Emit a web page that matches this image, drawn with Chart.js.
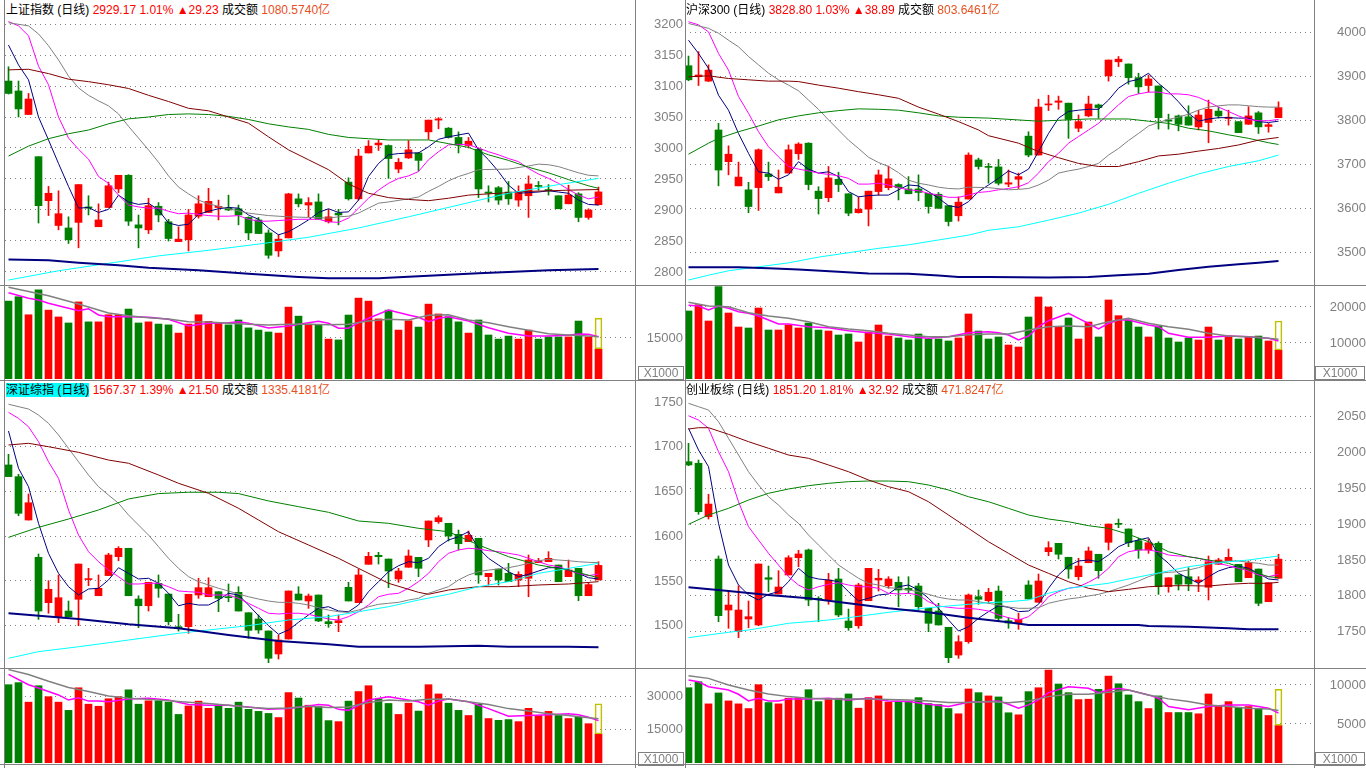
<!DOCTYPE html>
<html>
<head>
<meta charset="utf-8">
<script src="https://cdn.jsdelivr.net/npm/chart.js@4.4.1/dist/chart.umd.min.js"></script>
<style>
  body { margin: 0; background: #fff; width: 1366px; height: 768px; overflow: hidden; position: relative;
         font-family: "Liberation Sans", "DejaVu Sans", "Noto Sans CJK SC", sans-serif; }
  .box { position: absolute; }
  .hd { position: absolute; font-size: 12px; line-height: 16px; white-space: pre; color: #000; }
  .hd .r { color: #ff0000; }
  .hd .o { color: #e8501e; }
  .hd .sel { background: #00ffff; }
  .vl { position: absolute; width: 1px; background: #808080; }
  .hl { position: absolute; height: 1px; background: #808080; }
  .x1000 { position: absolute; border: 1px solid #808080; color: #808080; font-size: 12px; line-height: 12px;
           text-align: center; box-sizing: border-box; height: 14px; }
</style>
</head>
<body>

<div class="box" style="left:5px;top:21px;width:630px;height:264px"><canvas id="shK"></canvas></div>
<div class="box" style="left:5px;top:286px;width:630px;height:93px"><canvas id="shV"></canvas></div>
<div class="box" style="left:640px;top:11px;width:726px;height:284px"><canvas id="hsK"></canvas></div>
<div class="box" style="left:640px;top:286px;width:726px;height:93px"><canvas id="hsV"></canvas></div>
<div class="box" style="left:5px;top:399px;width:630px;height:269px"><canvas id="szK"></canvas></div>
<div class="box" style="left:5px;top:669px;width:630px;height:94px"><canvas id="szV"></canvas></div>
<div class="box" style="left:640px;top:389px;width:726px;height:289px"><canvas id="cyK"></canvas></div>
<div class="box" style="left:640px;top:669px;width:726px;height:94px"><canvas id="cyV"></canvas></div>

<div class="hd" style="left:6px;top:2px">上证指数 (日线) <span class="r">2929.17 1.01% ▲29.23</span> 成交额 <span class="o">1080.5740亿</span></div>
<div class="hd" style="left:686px;top:2px">沪深300 (日线) <span class="r">3828.80 1.03% ▲38.89</span> 成交额 <span class="o">803.6461亿</span></div>
<div class="hd" style="left:6px;top:382px"><span class="sel">深证综指 (日线)</span> <span class="r">1567.37 1.39% ▲21.50</span> 成交额 <span class="o">1335.4181亿</span></div>
<div class="hd" style="left:686px;top:382px">创业板综 (日线) <span class="r">1851.20 1.81% ▲32.92</span> 成交额 <span class="o">471.8247亿</span></div>

<div class="vl" style="left:4px;top:0;height:768px"></div>
<div class="vl" style="left:635px;top:0;height:768px"></div>
<div class="vl" style="left:685px;top:0;height:768px"></div>
<div class="vl" style="left:1314px;top:0;height:768px"></div>
<div class="hl" style="left:0;top:285px;width:1366px"></div>
<div class="hl" style="left:0;top:380px;width:1366px"></div>
<div class="hl" style="left:0;top:668px;width:1366px"></div>
<div class="hl" style="left:0;top:764px;width:1366px"></div>

<div class="x1000" style="left:638px;top:366px;width:46px">X1000</div>
<div class="x1000" style="left:1315px;top:366px;width:50px">X1000</div>
<div class="x1000" style="left:638px;top:752px;width:46px">X1000</div>
<div class="x1000" style="left:1315px;top:752px;width:50px">X1000</div>

<script>
// ---------- 上证指数 ----------
const shO = [3108,3092,3054,2986,2915,2875,2871,2880,2905,2873,2904,2934,2956,2876,2868,2906,2881,2849,2852,2890,2896,2904,2904,2902,2888,2884,2863,2834,2855,2918,2908,2913,2881,2895,2945,2918,2992,3005,3004,2966,2984,2992,3026,3045,3032,3017,3004,2998,2929,2936,2929,2916,2923,2939,2933,2923,2910,2926,2888,2908.5];
const shH = [3131,3108,3088,2986,2938,2931,2889,2941,2923,2910,2945,2956,2957,2892,2919,2912,2885,2873,2901,2923,2935,2916,2924,2908,2889,2888,2868,2860,2927,2926,2920,2926,2901,2901,2952,2998,3012,3013,3005,2983,3012,2993,3045,3049,3033,3026,3017,3000,2939,2938,2946,2939,2955,2946,2941,2923,2940,2928,2902,2937];
const shL = [3087,3050,3054,2879,2891,2868,2846,2839,2892,2873,2904,2928,2875,2839,2862,2881,2850,2849,2834,2887,2896,2884,2899,2876,2852,2862,2822,2825,2855,2905,2889,2885,2879,2876,2916,2916,2992,2996,2951,2960,2983,2963,3014,3031,3016,2992,3000,2920,2913,2909,2909,2906,2888,2932,2924,2902,2910,2881,2885,2908];
const shC = [3088,3063,3079,2907,2927,2894,2852,2941,2903,2884,2939,2956,2882,2871,2907,2892,2854,2853,2892,2910,2914,2906,2900,2892,2863,2862,2827,2853,2926,2910,2912,2885,2889,2892,2918,2987,3003,3008,2983,2977,2997,2980,3045,3047,3017,3005,3011,2934,2927,2916,2918,2930,2942,2938,2931,2902,2924,2888,2899.94,2929.17];
const shVol = [28500,30100,23500,32600,25200,22700,20500,28200,20900,20900,23500,23500,25600,20500,20900,20100,19800,16800,20100,23500,21100,20500,19800,21600,18700,17900,17200,16800,26300,23000,20100,19800,14600,14300,23400,29600,28500,22000,25200,17900,21300,19000,27400,23800,22800,20900,16800,21600,16100,14600,15700,14600,17900,14600,15400,15400,15400,21200,15400,11000];
const shVolEst = 22300;
const shMA5 = [3166,3134,3110,3050,3013,2975,2938,2903,2904,2896,2901,2924,2913,2909,2911,2900,2879,2875,2877,2893,2898,2902,2904,2903,2892,2885,2871,2860,2865,2874,2884,2896,2902,2896,2897,2916,2954,2975,2989,2991,2992,2992,3002,3014,3018,3021,3024,2997,2981,2962,2940,2927,2928,2929,2931,2929,2927,2916,2909,2908];
const shMA10 = [3204,3197,3181,3132,3102,3050,3016,2998,2982,2954,2943,2924,2908,2905,2903,2903,2898,2894,2895,2893,2891,2890,2890,2891,2885,2882,2882,2883,2884,2885,2885,2885,2881,2880,2887,2903,2919,2932,2943,2951,2955,2962,2981,2994,3005,3006,3005,3000,2994,2989,2983,2978,2967,2958,2951,2943,2933,2924,2918,2921];
const shMA20 = [[0,3202],[2,3197],[3,3184],[4,3165],[5,3142],[6,3116],[7,3097],[8,3085],[9,3076],[10,3068],[11,3055],[12,3035],[13,3016],[14,2997],[15,2977],[16,2955],[17,2937],[18,2926],[19,2916],[20,2910],[22,2902],[24,2895],[26,2891],[28,2889],[30,2888],[32,2887],[33,2889],[34,2890],[35,2895],[36,2903],[37,2911],[38,2913],[40,2918],[41,2921],[42,2930],[43,2938],[44,2947],[45,2954],[46,2959],[47,2965],[50,2966],[52,2971],[53,2974],[54,2973],[55,2970],[56,2965],[57,2960],[58,2956],[59,2955]];
const shMA60 = [[0,2987],[2,3003],[4,3015],[6,3023],[8,3029],[10,3039],[12,3047],[14,3050],[16,3054],[18,3055],[20,3054],[22,3051],[24,3046],[26,3039],[28,3034],[30,3030],[32,3022],[34,3017],[36,3015],[38,3013],[40,3013],[42,3013],[44,3007],[46,3001],[48,2989],[50,2980],[52,2969],[54,2960],[56,2949],[58,2939],[59,2935]];
const shMA120 = [[0,3126],[2,3127],[4,3120],[6,3111],[8,3107],[10,3102],[12,3096],[14,3085],[16,3075],[18,3064],[20,3060],[22,3050],[24,3040],[26,3018],[28,2997],[30,2981],[32,2965],[34,2942],[36,2927],[38,2920],[40,2917],[42,2915],[44,2919],[46,2924],[49,2927],[52,2930],[56,2932],[59,2933]];
const shMA250 = [[0,2787],[5,2802],[10,2814],[15,2826],[20,2835],[25,2845],[30,2856],[35,2871],[40,2889],[45,2908],[50,2927],[55,2941],[59,2951]];
const shMA500 = [[0,2820],[4,2819],[7,2815],[11,2811],[14,2807],[19,2803],[24,2797],[29,2792],[32,2790],[37,2790],[42,2794],[47,2798],[50,2800],[54,2803],[59,2805]];
const shVMA5 = [[0,31590],[2,29540],[3,28910],[4,27710],[6,25880],[7,25000],[8,25730],[9,23420],[10,22800],[12,22800],[14,22580],[16,21850],[18,19400],[20,20390],[22,20610],[23,20970],[24,20390],[26,18670],[28,19400],[30,20610],[31,21120],[32,20390],[33,18560],[34,18560],[35,20610],[36,22220],[38,25250],[40,23420],[41,22580],[42,20970],[43,22220],[44,22800],[46,21230],[48,18780],[50,16730],[52,15740],[54,15740],[56,15990],[57,16470],[58,16360],[59,15480]];
const shVMA10 = [[0,33560],[4,30490],[7,27450],[10,24160],[12,23170],[14,22440],[16,21960],[18,20970],[20,20860],[22,20390],[24,20020],[26,19760],[28,20020],[30,20020],[32,19870],[34,20020],[36,21230],[38,21850],[40,21590],[42,23310],[44,23530],[46,21590],[48,20610],[50,19140],[52,17820],[54,16580],[56,16100],[58,15740],[59,15480]];

// ---------- 沪深300 ----------
const hsO = [3924,3899,3889,3778,3706,3651,3642,3647,3678,3635,3680,3724,3748,3639,3624,3666,3633,3590,3598,3638,3647,3654,3644,3644,3634,3632,3606,3583,3621,3710,3694,3694,3655,3666,3764,3721,3835,3841,3839,3782,3810,3835,3901,3933,3928,3897,3879,3878,3801,3810,3808,3785,3795,3821,3804,3797,3791,3817,3786,3806];
const hsH = [3946,3956,3926,3793,3742,3705,3659,3735,3705,3687,3744,3749,3749,3649,3695,3682,3633,3626,3639,3687,3696,3656,3672,3676,3634,3636,3606,3626,3726,3714,3702,3711,3687,3680,3774,3848,3857,3855,3839,3812,3855,3837,3937,3945,3928,3907,3903,3878,3814,3812,3833,3823,3846,3830,3823,3797,3831,3820,3793,3842];
const hsL = [3890,3879,3888,3651,3676,3651,3590,3595,3663,3635,3680,3711,3642,3587,3615,3638,3583,3589,3560,3630,3642,3619,3633,3617,3589,3600,3560,3571,3621,3689,3657,3653,3649,3645,3717,3721,3822,3825,3759,3774,3808,3805,3889,3922,3882,3861,3864,3780,3780,3776,3789,3778,3749,3805,3789,3772,3791,3770,3773,3806];
const hsC = [3892,3903,3914,3687,3723,3671,3604,3733,3672,3648,3733,3746,3654,3622,3669,3654,3589,3598,3639,3676,3667,3647,3633,3636,3604,3600,3570,3614,3721,3695,3693,3657,3658,3672,3721,3830,3837,3844,3802,3797,3837,3829,3937,3939,3897,3876,3894,3806,3798,3791,3789,3812,3825,3810,3807,3772,3810,3785,3789.91,3828.80];
const hsVol = [18900,20640,16110,25640,18330,14440,14170,19720,13610,13610,15000,14170,15560,13610,13330,12220,12500,10280,13060,15000,11940,11390,10830,12500,11110,11110,10560,11390,18060,13330,11110,11670,9440,8890,17220,22780,20000,14440,16940,11110,15830,11670,21950,17590,16390,14440,11670,14720,11390,10280,11390,10830,14440,10830,11940,11110,11670,11940,10560,8060];
const hsVolEst = 16100;
const hsMA5 = [3982,3952,3918,3857,3823,3770,3725,3683,3680,3666,3676,3706,3689,3680,3683,3672,3638,3626,3629,3630,3630,3642,3653,3651,3638,3623,3606,3602,3615,3638,3653,3668,3685,3676,3689,3729,3770,3805,3820,3823,3825,3825,3846,3873,3888,3893,3907,3884,3865,3842,3816,3798,3803,3806,3806,3805,3805,3797,3795,3798];
const hsMA10 = [4024,4017,4001,3952,3914,3854,3816,3774,3740,3717,3695,3689,3685,3680,3677,3674,3668,3655,3655,3657,3653,3647,3642,3640,3634,3630,3625,3625,3630,3636,3638,3642,3645,3649,3658,3680,3706,3725,3748,3763,3778,3793,3814,3835,3854,3860,3864,3864,3860,3860,3858,3852,3842,3830,3820,3810,3802,3799,3799,3802];
const hsMA20 = [4020,null,4009,3998,3982,3967,3945,3926,3907,3892,3880,3867,3846,3825,3801,3778,3755,3736,3716,3704,3695,3681,3664,3657,3653,3648,3645,3644,3648,null,3647,null,3642,3643,3645,3653,3664,3680,3685,3689,3695,3702,3721,3736,3754,3770,3787,3795,3802,3807,3814,3823,3830,3833,3835,3835,3833,3831,3830,3830];
const hsMA60 = [[0,3723],[2,3748],[3,3759],[5,3774],[7,3787],[9,3801],[11,3810],[13,3817],[15,3822],[17,3826],[19,3825],[21,3823],[23,3817],[25,3810],[27,3807],[30,3805],[35,3798],[40,3803],[44,3803],[46,3798],[48,3793],[50,3782],[52,3776],[54,3767],[56,3759],[58,3749],[59,3745]];
const hsMA120 = [[0,3899],[2,3901],[4,3895],[6,3892],[8,3889],[10,3889],[11,3888],[13,3880],[15,3873],[17,3865],[19,3858],[21,3850],[23,3830],[25,3814],[27,3797],[29,3778],[30,3765],[33,3748],[35,3729],[37,3715],[39,3702],[41,3695],[43,3695],[45,3706],[47,3719],[49,3723],[51,3730],[53,3736],[55,3744],[57,3755],[59,3761]];
const hsMA250 = [[0,3437],[2,3448],[4,3458],[7,3467],[10,3476],[13,3489],[16,3499],[19,3509],[22,3517],[25,3528],[28,3539],[30,3550],[33,3558],[36,3573],[39,3589],[42,3609],[45,3634],[48,3657],[51,3678],[54,3695],[57,3708],[59,3721]];
const hsMA500 = [[0,3466],[5,3466],[8,3464],[11,3461],[15,3456],[18,3452],[22,3451],[25,3447],[27,3444],[30,3444],[36,3443],[40,3444],[43,3448],[46,3451],[49,3460],[52,3467],[55,3473],[57,3476],[59,3480]];
const hsVMA5 = [[0,20470],[1,20280],[2,19170],[3,20280],[4,19640],[5,18700],[6,18250],[7,17500],[8,16390],[9,15280],[10,15280],[12,14530],[14,14250],[16,13420],[18,12860],[20,12500],[22,11750],[24,11310],[26,11750],[28,12860],[30,13140],[31,12860],[32,12220],[33,10830],[34,11940],[35,14530],[36,16200],[38,18250],[39,16860],[40,15470],[41,13890],[42,15470],[43,16390],[44,16390],[46,15000],[47,14530],[48,12700],[50,11580],[52,11580],[54,11940],[56,11750],[58,11310],[59,10560]];
const hsVMA10 = [[0,21300],[2,20280],[4,20090],[6,18420],[8,17500],[10,16860],[12,15920],[14,14530],[16,13890],[18,13420],[20,12700],[22,12220],[24,11750],[26,11750],[28,12310],[30,12500],[32,12500],[34,13610],[36,14530],[38,14720],[40,14530],[42,15920],[44,16860],[46,15470],[48,14530],[50,13810],[52,12700],[54,11940],[56,11750],[58,11310],[59,11030]];

// ---------- 深证综指 ----------
const szO = [1679.6,1666.5,1618.1,1576.4,1525.7,1510,1516.4,1529.5,1551.5,1533.5,1556,1577.1,1586.5,1529.8,1522.3,1547.3,1535.4,1498.9,1498.9,1534.3,1532.4,1538,1532.4,1537.3,1514.5,1507.5,1494.1,1468.4,1485.1,1535.4,1527.6,1534.3,1504.5,1503.4,1542.9,1525.7,1568.6,1578.7,1574.5,1552.2,1565.3,1576.4,1595.8,1616.2,1614.4,1602.1,1593.9,1597.7,1554.8,1563.3,1558.5,1551.1,1553,1570.4,1571.5,1567.8,1554.8,1564.1,1533.5,1551.1];
const szH = [1691.5,1669.2,1647.2,1580.1,1550.3,1556.7,1527.6,1568.9,1564.1,1556.7,1580.9,1588.3,1586.5,1533.5,1548.5,1556.7,1535.4,1512.7,1535.1,1552.9,1553.6,1538,1546.6,1543.6,1514.5,1512,1494.1,1489.6,1538.8,1543.6,1535.4,1534.3,1512,1512,1548.5,1563.3,1582,1582,1574.5,1564.1,1584.6,1576.4,1617,1622.9,1614.4,1606.9,1605.8,1597.7,1558.5,1563.3,1569.7,1560.3,1579,1575.3,1582.7,1567.8,1573.4,1564.1,1547.3,1571.5];
const szL = [1666.6,1622.9,1618,1507,1513.9,1503.4,1510,1500,1544.7,1533.5,1556,1572.6,1533.5,1497.8,1516.4,1531.7,1500.8,1494,1491.5,1530.6,1532.4,1515.7,1526.8,1516.4,1485.9,1491.5,1458.7,1462.8,1485.1,1528.7,1519.4,1504.5,1498.2,1493.3,1527.6,1525.7,1568.6,1568.9,1542.5,1548.5,1565.3,1554.8,1588.3,1614.4,1594.6,1584.6,1593.9,1547.4,1545.5,1545.5,1549.2,1543.6,1532.4,1570.4,1571.5,1549.2,1554.8,1527.9,1533.5,1551.1];
const szC = [1666.6,1625.6,1637.4,1516.4,1540.7,1531.3,1510,1568.9,1552.6,1541.8,1579,1586.5,1533.5,1522.3,1548.5,1541.8,1504.5,1497.1,1535.1,1542.5,1542.5,1530.6,1531.3,1516.4,1494.8,1495.2,1463.6,1484,1538.8,1528.7,1533.2,1505.3,1502.2,1505.6,1527.6,1556.7,1577.5,1577.1,1561.1,1561.1,1577.9,1564.1,1617,1620.7,1600.2,1591.6,1601,1556.7,1558.5,1551.1,1549.2,1557.4,1573.4,1572.6,1575.3,1549.2,1562.2,1533.5,1545.87,1567.37];
const szVol = [35430,36360,27540,34970,30000,27540,23820,34040,26610,25680,29070,30000,33110,26610,28140,28140,27540,21970,25820,28000,24750,26290,24750,27540,24290,23360,22430,20570,31860,29400,26150,25540,19180,18720,28000,32320,34970,29070,26940,21970,27070,23500,35430,31250,27070,23820,21500,26610,20110,19320,19640,18720,24750,21500,23360,21500,20110,20710,17790,13140];
const szVolEst = 26800;
const szMA5 = [1717.5,1675.9,1655.3,1614.4,1580.9,1558.5,1543.6,1534.3,1541,1541.8,1551.1,1564.8,1558.5,1552.2,1553,1547.4,1536.2,1522.3,1525,1523.1,1523.1,1528.7,1536.2,1534.3,1523.1,1511.2,1500,1490.4,1495.2,1503.8,1512,1519.4,1521.2,1516.4,1515.6,1523.1,1538,1549.2,1560.3,1567,1571.5,1570.4,1575.3,1588.3,1595.8,1599.4,1605,1586.5,1575.3,1567.8,1560.3,1554.8,1557.4,1561.1,1564.8,1564.8,1562.2,1558.5,1553.6,1552.2];
const szMA10 = [1738.4,1731.7,1722.3,1705.6,1683.2,1664.7,1629.3,1601.3,1582.7,1571.5,1562.2,1554.8,1546.6,1546.6,1547.4,1547.4,1543.6,1538.8,1538,1537.3,1534.3,1534.3,1534.3,1530.6,1525,1519.4,1513.9,1513.1,1513.9,1513.9,1512.7,1510.1,1507.5,1506.4,1510.1,1515.6,1523.1,1532.4,1535.1,1536.2,1541.8,1549.2,1558.5,1571.5,1580.9,1584.6,1586.5,1585.7,1583.8,1582.7,1580.9,1579,1575.3,1571.5,1567.8,1565.9,1562.2,1558.5,1555.9,1557.8];
const szMA20 = [1747.4,null,1742.1,1735.4,1726.1,1713.1,1698.2,1683.2,1668.4,1655.3,1646,1636.8,1623.7,1612.5,1601.3,1588.3,1575.3,1564.1,1554.8,1549.2,1545.5,1541.8,1538.8,1535.4,1532.4,1529.8,1527.6,1526.1,1526.1,1525,1523.1,1520.1,1517.5,1515.6,1514.9,1517.5,1521.2,1523.9,1525,1526.1,1528.7,1530.6,1536.2,1539.9,1543.6,1551.1,1556.7,1560.3,1562.2,1563.3,1564.8,1567,1569.7,1572.6,1574.2,1573.4,1572.6,1571.5,1570.8,1570.4];
const szMA60 = [[0,1598.7],[3,1609.9],[6,1619.2],[9,1629.3],[12,1641.6],[15,1647.6],[18,1649.1],[21,1649.1],[23,1647.6],[26,1639.4],[29,1633],[32,1626.7],[35,1617],[38,1614.4],[41,1608.8],[44,1605],[47,1590.2],[50,1577.1],[53,1567.8],[56,1562.2],[59,1553.6]];
const szMA120 = [[0,1701.9],[2,1703.8],[4,1700],[7,1693.7],[10,1685.1],[12,1681.5],[15,1668.4],[17,1659.1],[20,1647.9],[23,1631.2],[25,1618.1],[27,1605],[30,1590.2],[33,1575.3],[35,1564.1],[38,1547.4],[41,1537.3],[42,1535.1],[44,1539.9],[47,1543.6],[50,1543.6],[53,1545.5],[56,1546.6],[59,1549.2]];
const szMA250 = [[0,1463.6],[3,1471],[7,1476.5],[12,1484],[17,1491.5],[20,1495.2],[24,1500],[28,1506.4],[32,1510.1],[35,1515.6],[38,1521.2],[41,1528.7],[44,1535.1],[47,1543.6],[50,1549.2],[53,1558.5],[56,1564.1],[59,1569.7]];
const szMA500 = [[0,1513.9],[7,1507.5],[12,1501.6],[17,1497.1],[22,1489.6],[27,1482.9],[32,1479.2],[35,1476.5],[41,1476.5],[47,1477.6],[50,1476.5],[56,1476.5],[59,1475.9]];
const szVMA5 = [[0,40080],[2,35430],[3,33900],[4,32320],[5,30790],[6,28470],[7,29540],[8,28000],[9,28000],[10,27680],[12,28930],[14,29260],[16,28470],[18,26470],[20,26150],[22,26150],[24,25360],[26,24290],[28,24610],[30,25820],[31,26470],[32,26150],[33,24290],[34,23820],[35,26150],[36,28470],[38,30000],[40,28470],[41,27680],[42,26150],[43,28000],[44,28930],[46,27680],[48,24610],[50,21180],[52,21500],[54,21830],[56,22290],[57,21830],[58,20710],[59,19180]];
const szVMA10 = [[0,42260],[2,40080],[4,36970],[6,34180],[8,32320],[10,30330],[12,29260],[14,28790],[16,28140],[18,27540],[20,26940],[22,26150],[24,25220],[26,24610],[28,24890],[30,25680],[32,25080],[34,25360],[36,27400],[38,28470],[40,28000],[42,28790],[44,28930],[46,27680],[48,26470],[50,24610],[52,23500],[54,22290],[56,21500],[58,20430],[59,19970]];

// ---------- 创业板综 ----------
const cyO = [1987.2,1985,1910.4,1851.4,1780.2,1750,1767.7,1759.3,1825.3,1802.6,1829.1,1853.2,1864,1796.6,1794.2,1823.5,1764.9,1758.3,1793.2,1822.1,1814.1,1818.9,1810.5,1813.7,1782.6,1778.8,1756.1,1717.4,1736,1798.8,1793.2,1806.7,1765.3,1762.5,1815.1,1791,1861.6,1873.3,1853.8,1826.7,1846.2,1858,1874.7,1901.2,1893.3,1876.9,1864,1873.3,1812.7,1829.1,1826.7,1819.7,1811.9,1844,1849,1844,1825.3,1837.4,1791.8,1824.5];
const cyH = [2012.8,1989.5,1941.7,1855.6,1805.8,1814.1,1792.8,1844.4,1841.6,1835.1,1856,1863.5,1865.3,1798.8,1831.4,1838.4,1781.6,1817.5,1838.4,1837,1826.7,1826.7,1826.7,1817.5,1782.6,1789.6,1756.1,1744.4,1802.6,1808.1,1810.5,1813.7,1769.5,1775.6,1821.1,1830.5,1875.5,1873.3,1853.8,1852.4,1868.1,1858,1900.2,1907.2,1893.3,1880.3,1879.3,1875.5,1825.3,1829.1,1839.3,1826.7,1855.6,1852.4,1865.3,1844,1848.6,1837.4,1818.3,1858];
const cyL = [1981.6,1913.8,1907.2,1763.9,1754.7,1741.6,1755.5,1758.3,1805.8,1802.6,1829.1,1840.7,1786.2,1763.9,1788.2,1770.9,1751.9,1754.7,1793.2,1806.7,1810.5,1784.8,1803.5,1780.2,1750,1759.3,1706.7,1712.8,1733.8,1788.2,1789.6,1764.9,1754.7,1753.3,1795.6,1791,1856,1851.4,1824.5,1822.1,1846.2,1824.5,1864,1895.1,1868.6,1852.4,1859.3,1802.1,1805,1808.1,1807.2,1805.8,1794.2,1844,1849,1819.7,1825.3,1786.2,1791.8,1824.5];
const cyC = [1982.6,1917.4,1928.1,1772.3,1787.2,1780.2,1770.9,1844.4,1823.1,1812.3,1853.2,1858.4,1794.2,1795.2,1822.1,1773.3,1755.5,1815.1,1838.4,1824.5,1823.5,1808.1,1808.1,1784.8,1761.7,1759.3,1713.7,1736,1801.2,1795.2,1805,1768.6,1762.1,1767.3,1795.6,1820.7,1867.2,1858,1837.4,1841.6,1862.6,1835.1,1900.2,1899.8,1874.1,1864,1874.1,1812.7,1825.3,1816.1,1816.5,1822.1,1847.6,1850,1853.8,1819.7,1846.2,1789.6,1818.28,1851.2];
const cyVol = [9650,10420,7580,8980,7960,7580,6980,10040,7750,7580,8310,8380,9400,7870,8180,8310,8850,7030,8380,8600,7800,7920,7920,8380,7620,7490,6980,6310,9490,9020,8600,8470,6440,6180,9150,9650,11910,10130,9020,8130,8180,9450,11140,10160,8730,7870,6980,8600,6470,6470,6470,6310,8850,7360,7870,7110,7240,6980,6090,4820];
const cyVolEst = 9450;
const cyMA5 = [2033.8,2003.5,1980.2,1901.2,1843,1815.1,1801.2,1794.2,1802.1,1805.8,1819.7,1838.4,1826.7,1823.5,1822.1,1819.7,1805.8,1792.8,1796.6,1801.2,1802.6,1812.7,1815.1,1808.1,1796.6,1782.6,1766.3,1750.9,1756.9,1768.7,1777.9,1786.2,1784,1777.9,1778.8,1788.2,1810.5,1829.1,1842,1848.6,1850,1847.6,1857,1868.6,1874.7,1877.9,1881.1,1857,1845.4,1831.4,1824.5,1817.5,1826.7,1834.7,1839.3,1841.6,1838.4,1831.4,1823.5,1822.1];
const cyMA10 = [2051.3,2045.3,2033.8,2001.1,1973.2,1931.3,1896.5,1877.9,1859.3,1843,1826.7,1815.1,1808.1,1812.7,1816.1,1818.3,1815.1,1812.7,1812.7,1810.5,1803.5,1802.6,1803.5,1801.2,1791.8,1785.8,1784,1782.6,1782.6,1781.2,1778.8,1773.3,1769.5,1766.3,1770.9,1782.6,1798.8,1805.8,1810.5,1812.7,1818.9,1826.7,1838.4,1854.6,1861.6,1864,1864,1861.6,1857,1855.6,1854.6,1852.4,1848.6,1845.4,1842,1838.4,1834.7,1829.1,1826.7,1830];
const cyMA20 = [2068.6,2063.9,2059.3,2043,2019.8,1996.5,1973.2,1954.7,1938.3,1926.7,1912.8,1901.2,1884.9,1870.9,1857,1843,1833.7,1824.5,1817.5,1815.1,1811.3,1810.5,1808.1,1805.8,1802.1,1798,1795.6,1794.2,1794.2,1791.8,1789.6,1787.2,1784.4,1782.6,1782.6,1783.4,1789.6,1792.8,1795.6,1797.4,1799.8,1802.1,1805.8,1810.5,1815.1,1820.7,1826.7,1831.4,1832.8,1833.7,1836,1839.3,1844,1847.6,1848.6,1848.6,1846.8,1845.4,1843,1843];
const cyMA60 = [[0,1899.8],[2,1912.8],[4,1922.1],[6,1933.7],[8,1943.1],[10,1949.1],[12,1953.7],[14,1957],[16,1959.3],[18,1960.2],[20,1960.2],[22,1959.3],[24,1954.6],[26,1947.7],[28,1938.3],[30,1931.3],[32,1922.1],[34,1912.8],[36,1907.2],[38,1903.4],[40,1897.9],[42,1894.2],[44,1885.9],[46,1875.5],[48,1861.6],[50,1854.6],[52,1850],[54,1845.4],[56,1836],[58,1826.7],[59,1825.3]];
const cyMA120 = [[0,2032.8],[1,2034.6],[2,2034.6],[3,2030],[4,2025.4],[6,2015.1],[8,2005.9],[10,1996.5],[12,1991.9],[14,1982.6],[16,1973.2],[18,1961.6],[20,1952.3],[22,1945.3],[24,1931.3],[26,1912.8],[28,1894.2],[30,1875.5],[32,1859.3],[34,1843],[36,1831.4],[38,1819.7],[40,1810.5],[42,1805.8],[44,1809.1],[46,1812.7],[48,1814.1],[50,1814.1],[52,1813.7],[54,1816.1],[56,1817.5],[58,1817.5],[59,1818.9]];
const cyMA250 = [[0,1741.6],[2,1745.4],[4,1749.1],[6,1752.3],[8,1756.9],[10,1761.7],[12,1763.9],[14,1766.3],[16,1769.5],[18,1773.3],[20,1777],[22,1780.2],[24,1783.4],[26,1785.8],[28,1788.2],[30,1790.4],[32,1791.8],[34,1794.2],[36,1803.5],[38,1810.5],[40,1814.1],[42,1817.5],[44,1823.5],[46,1829.1],[48,1834.7],[50,1840.7],[52,1844.4],[54,1847.6],[56,1850],[58,1853.8],[59,1855.6]];
const cyMA500 = [[0,1811.9],[4,1806.7],[8,1801.2],[12,1796.6],[16,1789.6],[20,1782.6],[24,1777],[28,1769.5],[32,1763.1],[34,1759.3],[45,1759.3],[46,1757.9],[50,1756.9],[54,1754.7],[56,1753.3],[59,1753.3]];
const cyVMA5 = [[0,10630],[1,10420],[2,9780],[4,9360],[5,8810],[6,7960],[7,8310],[8,7960],[9,7960],[10,8220],[12,8220],[14,8310],[16,8090],[18,8310],[20,7960],[22,7870],[24,7540],[26,7240],[28,7800],[30,7870],[31,7960],[32,7540],[33,7030],[34,7450],[35,8090],[36,9020],[38,9780],[40,9580],[41,9020],[42,9360],[43,9580],[44,9360],[46,8730],[47,8310],[48,7240],[50,6820],[52,7240],[54,7450],[56,7450],[57,7240],[58,7030],[59,6400]];
const cyVMA10 = [[0,11180],[2,10850],[4,10000],[6,9360],[8,8850],[10,8510],[12,8310],[14,8220],[16,8220],[18,8220],[20,8130],[22,8090],[24,7960],[26,7750],[28,7750],[30,7870],[32,7710],[34,7960],[36,8510],[38,8810],[40,8810],[42,9070],[44,9360],[46,8730],[48,8220],[50,7870],[52,7450],[54,7240],[56,7030],[58,6910],[59,6730]];

// ---------- axis ticks ----------
const shTicks = [2800,2850,2900,2950,3000,3050,3100,3150,3200];
const hsTicks = [3500,3600,3700,3800,3900,4000];
const szTicks = [1500,1550,1600,1650,1700];
const szTicksLabel = [1500,1550,1600,1650,1700,1750];
const cyTicks = [1750,1800,1850,1900,1950,2000,2050];
const shVolTicks = [15000];
const hsVolTicks = [10000,20000];
const szVolTicks = [15000,30000];
const cyVolTicks = [5000,10000];

const RED = '#ff0000', GREEN = '#008000';
Chart.defaults.font.family = '"Liberation Sans", Arial, sans-serif';

function pts(a) {
  const out = [];
  a.forEach((v, i) => {
    if (Array.isArray(v)) out.push({x: v[0], y: v[1]});
    else if (v != null) out.push({x: i, y: v});
  });
  return out;
}

function line(data, color, w) {
  return {type: 'line', data: pts(data), borderColor: color, borderWidth: w || 1,
          pointRadius: 0, tension: 0, order: 1, yAxisID: 'y'};
}

function yAxis(pos, min, max, ticks, opts) {
  return {
    position: pos, min: min, max: max,
    afterBuildTicks: s => { s.ticks = ticks.map(v => ({value: v})); },
    // fixed axis width, and no extra room reserved for the labels
    afterFit: s => { s.width = opts.width; s.paddingTop = 0; s.paddingBottom = 0; },
    ticks: {display: opts.labels, color: '#808080', font: {size: 13}, padding: opts.pad || 0,
            callback: v => String(v), crossAlign: opts.align || 'near'},
    grid: {display: opts.grid, color: '#808080', drawTicks: false, lineWidth: 1},
    border: {display: false, dash: [1, 4]}
  };
}

function makeChart(id, datasets, xr, scales, padV) {
  scales.x = {type: 'linear', display: false, min: xr[0], max: xr[1], offset: false};
  return new Chart(document.getElementById(id), {
    type: 'bar',
    data: {datasets: datasets},
    options: {
      animation: false, responsive: true, maintainAspectRatio: false, events: [],
      layout: {padding: {top: padV || 0, bottom: padV || 0, left: 0, right: 0}},
      plugins: {legend: {display: false}, tooltip: {enabled: false}},
      scales: scales
    }
  });
}

function candles(o, h, l, c) {
  const col = c.map((v, i) => v >= o[i] ? RED : GREEN);
  return [
    {type: 'bar', data: l.map((v, i) => ({x: i, y: [v, h[i]]})), backgroundColor: col,
     barThickness: 1, grouped: false, order: 3, yAxisID: 'y'},
    {type: 'bar', data: o.map((v, i) => ({x: i, y: [v, c[i]]})), backgroundColor: col,
     barThickness: 7, grouped: false, minBarLength: 1, order: 2, yAxisID: 'y'}
  ];
}

function maLines(m5, m10, m20, m60, m120, m250, m500) {
  return [line(m500, '#000080', 2), line(m250, '#00ffff'), line(m120, '#800000'), line(m60, '#008000'),
          line(m20, '#808080'), line(m10, '#ff00ff'), line(m5, '#000080')];
}

function volSets(o, c, vol, est, v5, v10) {
  const col = c.map((v, i) => v >= o[i] ? RED : GREEN);
  const last = vol.length - 1;
  return [
    {type: 'bar', data: vol.map((v, i) => ({x: i, y: v})), backgroundColor: col,
     barThickness: 7, grouped: false, order: 3, yAxisID: 'y'},
    {type: 'bar', data: [{x: last, y: [vol[last], est]}], backgroundColor: 'rgba(0,0,0,0)',
     borderColor: '#c0c000', borderWidth: 1, borderSkipped: false, barThickness: 7, grouped: false, order: 2, yAxisID: 'y'},
    line(v10, '#808080', 1.5), line(v5, '#ff00ff', 1.5)
  ];
}

const XL = [-0.35, 62.65];   // left panels
const XR = [-0.35, 62.55];   // right panels

// value at bottom / top edge of each plot
const shRange = [2779.03, 3204.84], hsRange = [3425.68, 4025.68];
const szRange = [1452.74, 1753.30], cyRange = [1699.30, 2074.67];
const shVolMax = 34024, hsVolMax = 25833, szVolMax = 42534, cyVolMax = 12051;

// 上证指数
makeChart('shK', [...candles(shO, shH, shL, shC), ...maLines(shMA5, shMA10, shMA20, shMA60, shMA120, shMA250, shMA500)], XL,
  {y: yAxis('left', shRange[0], shRange[1], shTicks, {width: 0, labels: false, grid: true})});
makeChart('shV', volSets(shO, shC, shVol, shVolEst, shVMA5, shVMA10), XL,
  {y: yAxis('left', 0, shVolMax, shVolTicks, {width: 0, labels: false, grid: true})});

// 沪深300
makeChart('hsK', [...candles(hsO, hsH, hsL, hsC), ...maLines(hsMA5, hsMA10, hsMA20, hsMA60, hsMA120, hsMA250, hsMA500)], XR,
  {y: yAxis('right', hsRange[0], hsRange[1], hsTicks, {width: 52, labels: true, grid: true, pad: 19, align: 'far'}),
   yL: yAxis('left', shRange[0], shRange[1], shTicks, {width: 45, labels: true, grid: false, pad: 2})}, 10);
makeChart('hsV', volSets(hsO, hsC, hsVol, hsVolEst, hsVMA5, hsVMA10), XR,
  {y: yAxis('right', 0, hsVolMax, hsVolTicks, {width: 52, labels: true, grid: true, pad: 12, align: 'far'}),
   yL: yAxis('left', 0, shVolMax, shVolTicks, {width: 45, labels: true, grid: false, pad: 2})});

// 深证综指
makeChart('szK', [...candles(szO, szH, szL, szC), ...maLines(szMA5, szMA10, szMA20, szMA60, szMA120, szMA250, szMA500)], XL,
  {y: yAxis('left', szRange[0], szRange[1], szTicks, {width: 0, labels: false, grid: true})});
makeChart('szV', volSets(szO, szC, szVol, szVolEst, szVMA5, szVMA10), XL,
  {y: yAxis('left', 0, szVolMax, szVolTicks, {width: 0, labels: false, grid: true})});

// 创业板综
makeChart('cyK', [...candles(cyO, cyH, cyL, cyC), ...maLines(cyMA5, cyMA10, cyMA20, cyMA60, cyMA120, cyMA250, cyMA500)], XR,
  {y: yAxis('right', cyRange[0], cyRange[1], cyTicks, {width: 52, labels: true, grid: true, pad: 19, align: 'far'}),
   yL: yAxis('left', szRange[0], szRange[1], szTicksLabel, {width: 45, labels: true, grid: false, pad: 2})}, 10);
makeChart('cyV', volSets(cyO, cyC, cyVol, cyVolEst, cyVMA5, cyVMA10), XR,
  {y: yAxis('right', 0, cyVolMax, cyVolTicks, {width: 52, labels: true, grid: true, pad: 12, align: 'far'}),
   yL: yAxis('left', 0, szVolMax, szVolTicks, {width: 45, labels: true, grid: false, pad: 2})});
</script>
</body>
</html>
